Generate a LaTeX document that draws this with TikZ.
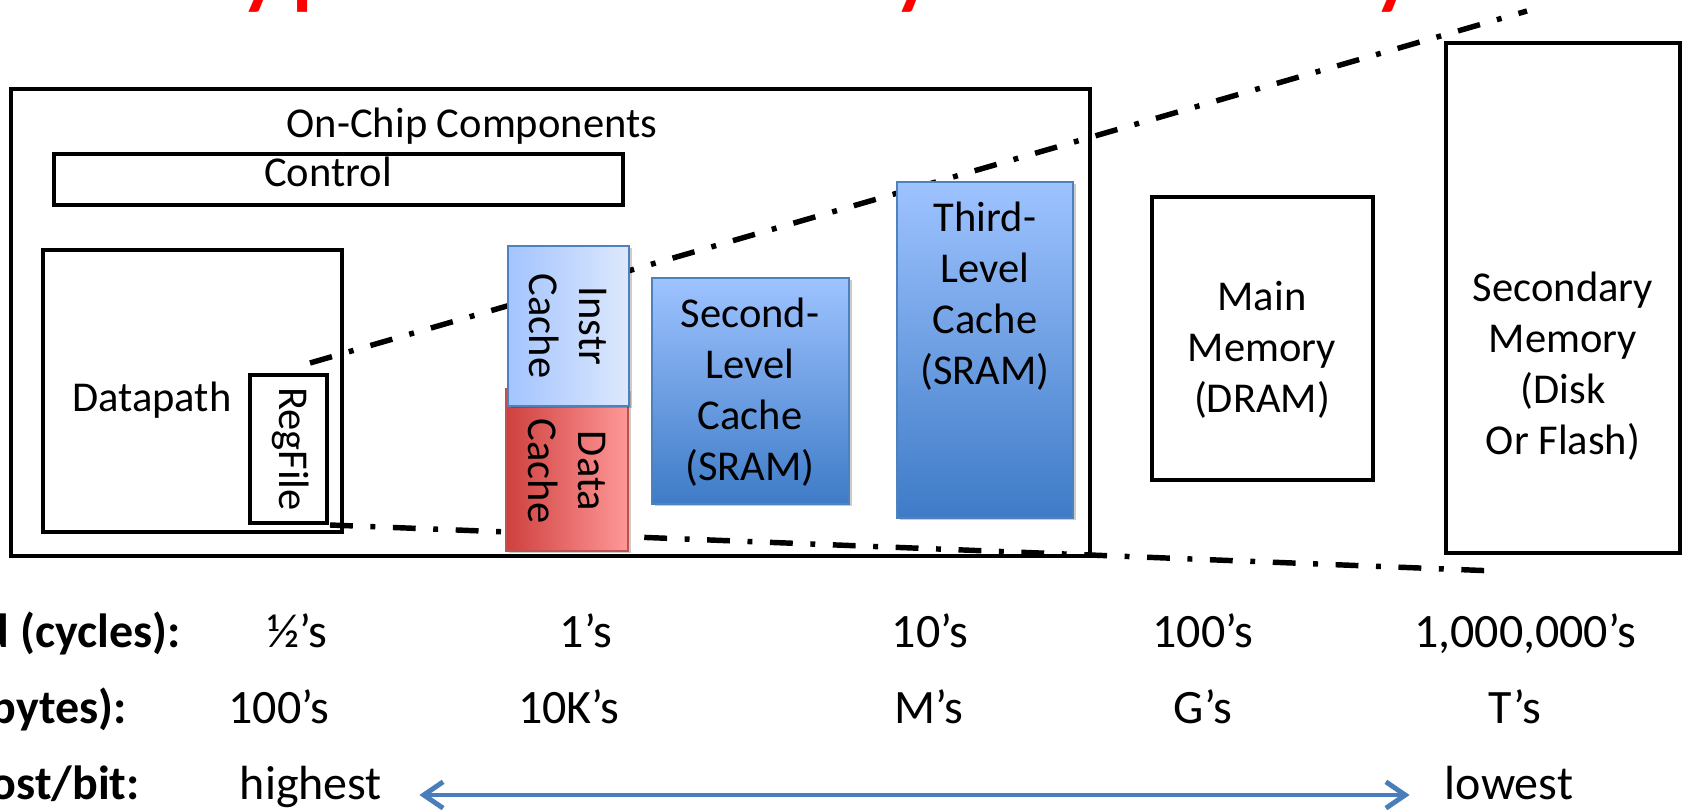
\documentclass[tikz,border=0pt]{standalone}
\usepackage{fontspec}
\setmainfont{Carlito}
\usetikzlibrary{calc}
\usetikzlibrary{shadows}
\usetikzlibrary{arrows.meta}
\definecolor{titlered}{RGB}{255,0,0}
\definecolor{cachetop}{RGB}{158,195,255}
\definecolor{cachebot}{RGB}{62,123,199}
\definecolor{instrleft}{RGB}{163,196,255}
\definecolor{instrright}{RGB}{221,232,252}
\definecolor{dataleft}{RGB}{206,64,62}
\definecolor{dataright}{RGB}{255,152,152}
\definecolor{blueedge}{RGB}{79,129,189}
\definecolor{rededge}{RGB}{192,80,77}
\definecolor{arrowblue}{RGB}{74,126,187}

\begin{document}
\begin{tikzpicture}[x=0.02cm, y=-0.02cm,
    font=\fontsize{24.2}{29}\selectfont,
    blk/.style={line width=2.3pt},
    lbl/.style={inner sep=0pt, align=center},
    vlbl/.style={inner sep=0pt, align=center, rotate=-90},
    rowlbl/.style={inner sep=0pt, anchor=base east, font=\fontsize{27.3}{32}\selectfont\bfseries},
    val/.style={inner sep=0pt, anchor=base, font=\fontsize{27.3}{32}\selectfont},
    dashdot/.style={line width=3.1pt, dash pattern=on 13pt off 10pt on 2.8pt off 10pt},
    cacheshadow/.style={drop shadow={shadow xshift=0.05cm, shadow yshift=-0.05cm, opacity=0.2, fill=black}},
    bluecache/.style={draw=blueedge, line width=0.8pt, top color=cachetop, bottom color=cachebot, cacheshadow},
    costarrow/.style={draw=arrowblue, line width=2.8pt, arrows={Straight Barb[length=11pt,width=15pt]-Straight Barb[length=11pt,width=15pt]}}]
  \useasboundingbox (0,0) rectangle (1684,810);
  \clip (0,0) rectangle (1684,810);

  \node[anchor=base west, inner sep=0pt, text=titlered, font=\fontsize{66.6}{80}\selectfont] (title) at (184,-6.5) {Typical Memory Hierarchy};

  % on-chip part
  \draw[blk] (11,89) rectangle (1090,556);
  \node[lbl, anchor=base] (onchip) at (472,138) {On-Chip Components};
  \draw[blk] (54,154) rectangle (623,205);
  \node[lbl, anchor=base] (control) at (328,187) {Control};
  \draw[blk] (43,250) rectangle (342,532);
  \node[lbl, anchor=base] (datapath) at (152,412) {Datapath};
  \draw[blk] (250,375) rectangle (327,523);
  \node[vlbl] (regfile) at (291,449) {RegFile};

  % the two dash-dot lines, behind the caches
  \coordinate (rf-top) at (310,363);
  \coordinate (rf-bot) at (330,525);
  \coordinate (far-top) at (1527,11);
  \coordinate (far-bot) at (1495,571);
  \draw[dashdot] (rf-top) -- (far-top);
  \draw[dashdot] (rf-bot) -- (far-bot);

  \draw[draw=rededge, line width=0.8pt, left color=dataleft, right color=dataright, cacheshadow] (506,389) rectangle (628,551);
  \node[vlbl] (dcache) at (567,471) {Data\\Cache};
  \draw[draw=blueedge, line width=0.8pt, left color=instrleft, right color=instrright, cacheshadow] (508,246) rectangle (629,406);
  \node[vlbl] (icache) at (568,326) {Instr\\Cache};

  \draw[bluecache] (652,278) rectangle (849,504);
  \node[lbl] (ltwo) at (750,392) {Second-\\Level\\Cache\\(SRAM)};
  \draw[bluecache] (897,182) rectangle (1073,518);
  \node[lbl] (lthree) at (985,296) {Third-\\Level\\Cache\\(SRAM)};

  % off-chip memories
  \draw[blk] (1152,197) rectangle (1373,480);
  \node[lbl] (dram) at (1262,350) {Main\\Memory\\(DRAM)};
  \draw[blk] (1446,43) rectangle (1680,553);
  \node[lbl] (disk) at (1563,366) {Secondary\\Memory\\(Disk\\Or Flash)};

  % rows below
  \node[rowlbl] (speed) at (181,647) {Speed (cycles):};
  \node[rowlbl] (size) at (127,723) {Size (bytes):};
  \node[rowlbl] (cost) at (140,799) {Cost/bit:};
  \foreach \x/\t [count=\i] in {297/½’s, 586/1’s, 930/10’s, 1203/100’s, 1525/{1,000,000’s}}
    \node[val] (speed-\i) at (\x,647) {\t};
  \foreach \x/\t [count=\i] in {279/100’s, 569/10K’s, 929/M’s, 1203/G’s, 1515/T’s}
    \node[val] (size-\i) at (\x,723) {\t};
  \node[val] (highest) at (311,799) {highest};
  \node[val] (lowest) at (1509,799) {lowest};
  \draw[costarrow] ($(highest.base east)+(37,-4)$) -- ($(lowest.base west)+(-35,-4)$);
\end{tikzpicture}
\end{document}
